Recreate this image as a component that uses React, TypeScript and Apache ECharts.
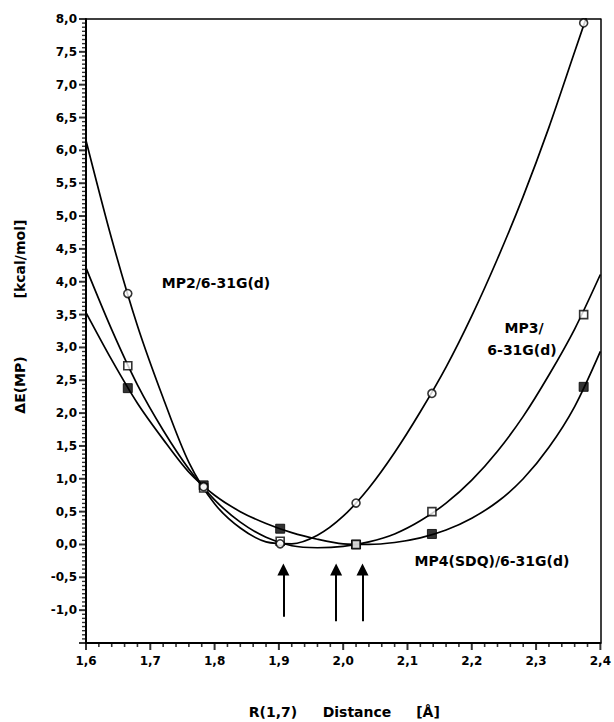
import React, { useEffect, useRef } from 'react';
import * as echarts from 'echarts';

// Fitted curves
const curveX = [1.60, 1.64, 1.68, 1.72, 1.76, 1.80, 1.84, 1.88, 1.92, 1.96, 2.00, 2.04, 2.08, 2.12, 2.16, 2.20, 2.24, 2.28, 2.32, 2.36, 2.40];
const mp2Curve = [6.15, 4.65, 3.33, 2.23, 1.25, 0.62, 0.25, 0.04, 0.01, 0.14, 0.43, 0.86, 1.40, 2.02, 2.70, 3.48, 4.35, 5.30, 6.35, 7.50, 8.65];
const mp3Curve = [4.21, 3.27, 2.43, 1.74, 1.15, 0.68, 0.34, 0.11, -0.02, -0.05, -0.03, 0.04, 0.16, 0.36, 0.63, 0.98, 1.42, 1.95, 2.58, 3.28, 4.11];
const mp4Curve = [3.53, 2.81, 2.15, 1.60, 1.10, 0.75, 0.50, 0.32, 0.18, 0.08, 0.01, 0.00, 0.03, 0.10, 0.22, 0.40, 0.65, 1.00, 1.48, 2.10, 2.94];

// Computed points (markers)
const markX = [1.665, 1.783, 1.902, 2.020, 2.138, 2.374];
const mp2Points = [3.82, 0.88, 0.01, 0.63, 2.30, 7.94];
const mp3Points = [2.72, 0.86, 0.05, 0.00, 0.50, 3.50];
const mp4Points = [2.38, 0.90, 0.24, 0.00, 0.16, 2.40];

// Arrows marking the minima
const arrowX = [1.907, 1.989, 2.030];
const arrowTail = [-1.10, -1.17, -1.17];
const arrowHead = -0.38;

// Axis ranges and tick subdivisions
const xRange = [1.6, 2.4];
const yRange = [-1.5, 8];
const xMinorSteps = 40; // minor tick every 0.02, major every 5th
const yMinorSteps = 152; // minor tick every 0.0625, major every 8th

// Labels
const seriesLabels = ['MP2/6-31G(d)', 'MP3/', '6-31G(d)', 'MP4(SDQ)/6-31G(d)'];
const yTitleParts = ['ΔE(MP)', '[kcal/mol]'];
const xTitleParts = ['R(1,7)', 'Distance', '[Å]'];

const FONT = '"DejaVu Sans", sans-serif';

const pairs = (xs: number[], ys: number[]) => xs.map((x, i) => [x, ys[i]]);
const fmt = (v: number) => v.toFixed(1).replace('.', ',');

const xMajorTicks: number[][] = [];
const xMinorTicks: number[][] = [];
for (let i = 0; i <= xMinorSteps; i++) {
  const v = xRange[0] + ((xRange[1] - xRange[0]) * i) / xMinorSteps;
  (i % 5 === 0 ? xMajorTicks : xMinorTicks).push([v, yRange[0]]);
}
const yMajorTicks: number[][] = [];
const yMinorTicks: number[][] = [];
for (let i = 0; i <= yMinorSteps; i++) {
  const v = yRange[0] + ((yRange[1] - yRange[0]) * i) / yMinorSteps;
  (i % 8 === 0 ? yMajorTicks : yMinorTicks).push([xRange[0], v]);
}

export default function App() {
  const ref = useRef<HTMLDivElement>(null);
  useEffect(() => {
    document.body.style.margin = '0';
    const chart = echarts.init(ref.current!, null, { renderer: 'svg' });
    const lineBase = {
      type: 'line' as const,
      smooth: 0.3,
      showSymbol: false,
      symbol: 'none',
      lineStyle: { color: '#000', width: 1.7 },
      silent: true,
      z: 2,
    };
    const tickSeries = (data: number[][], size: number[], offset: number[]) => ({
      type: 'scatter' as const,
      data,
      symbol: 'rect',
      symbolSize: size,
      symbolOffset: offset,
      itemStyle: { color: '#000' },
      clip: false,
      silent: true,
      z: 6,
    });
    const textStyle = (text: string) => ({
      text,
      fill: '#000',
      font: `bold 14px ${FONT}`,
      align: 'center',
      verticalAlign: 'middle',
    });
    const labelStyle = {
      color: '#000',
      fontFamily: FONT,
      fontWeight: 'bold' as const,
      fontSize: 12,
    };
    const frameAxis = {
      type: 'value' as const,
      axisLine: { show: true, onZero: false, lineStyle: { color: '#000', width: 1.5 } },
      axisTick: { show: false },
      axisLabel: { show: false },
      splitLine: { show: false },
    };
    chart.setOption({
      animation: false,
      grid: { left: 86, right: 12, top: 19, bottom: 79 },
      xAxis: [
        {
          type: 'value',
          min: xRange[0],
          max: xRange[1],
          interval: 0.1,
          axisLine: { show: true, onZero: false, lineStyle: { color: '#000', width: 2 } },
          axisTick: { show: false },
          splitLine: { show: false },
          axisLabel: { ...labelStyle, margin: 12, formatter: (v: number) => fmt(v) },
        },
        { ...frameAxis, position: 'top', min: xRange[0], max: xRange[1] },
      ],
      yAxis: [
        {
          type: 'value',
          min: yRange[0],
          max: yRange[1],
          interval: 0.5,
          axisLine: { show: true, onZero: false, lineStyle: { color: '#000', width: 2 } },
          axisTick: { show: false },
          splitLine: { show: false },
          axisLabel: { ...labelStyle, margin: 9, formatter: (v: number) => (v < -1.25 ? '' : fmt(v)) },
        },
        { ...frameAxis, position: 'right', min: yRange[0], max: yRange[1] },
      ],
      series: [
        {
          ...lineBase,
          name: 'MP2 curve',
          data: pairs(curveX, mp2Curve),
          markLine: {
            silent: true,
            symbol: ['none', 'triangle'],
            symbolSize: 12,
            label: { show: false },
            lineStyle: { color: '#000', width: 2, type: 'solid' },
            itemStyle: { color: '#000' },
            emphasis: { disabled: true },
            data: arrowX.map((x, i) => [
              { coord: [x, arrowTail[i]] },
              { coord: [x, arrowHead] },
            ]),
          },
        },
        { ...lineBase, name: 'MP3 curve', data: pairs(curveX, mp3Curve) },
        { ...lineBase, name: 'MP4 curve', data: pairs(curveX, mp4Curve) },
        {
          type: 'scatter',
          name: 'MP4(SDQ)',
          data: pairs(markX, mp4Points),
          symbol: 'rect',
          symbolSize: 9,
          itemStyle: { color: '#000', borderColor: '#000', borderWidth: 1 },
          z: 3,
          silent: true,
        },
        {
          type: 'scatter',
          name: 'MP3',
          data: pairs(markX, mp3Points),
          symbol: 'rect',
          symbolSize: 8,
          itemStyle: { color: '#fff', borderColor: '#000', borderWidth: 1.6 },
          z: 4,
          silent: true,
        },
        {
          type: 'scatter',
          name: 'MP2',
          data: pairs(markX, mp2Points),
          symbol: 'circle',
          symbolSize: 8,
          itemStyle: { color: '#fff', borderColor: '#000', borderWidth: 1.6 },
          z: 5,
          silent: true,
        },
        tickSeries(xMajorTicks, [2, 7], [0, 3.5]),
        tickSeries(xMinorTicks, [1.6, 4], [0, 2]),
        tickSeries(yMajorTicks, [7, 2], [-3.5, 0]),
        tickSeries(yMinorTicks, [4, 1.4], [-2, 0]),
      ],
      graphic: [
        { type: 'text', x: 216, y: 283, style: textStyle(seriesLabels[0]) },
        { type: 'text', x: 524, y: 328, style: textStyle(seriesLabels[1]) },
        { type: 'text', x: 522, y: 350, style: textStyle(seriesLabels[2]) },
        { type: 'text', x: 492, y: 561, style: textStyle(seriesLabels[3]) },
        { type: 'text', x: 20, y: 385, rotation: Math.PI / 2, style: textStyle(yTitleParts[0]) },
        { type: 'text', x: 20, y: 259, rotation: Math.PI / 2, style: textStyle(yTitleParts[1]) },
        { type: 'text', x: 273, y: 712, style: textStyle(xTitleParts[0]) },
        { type: 'text', x: 357, y: 712, style: textStyle(xTitleParts[1]) },
        { type: 'text', x: 428, y: 712, style: textStyle(xTitleParts[2]) },
      ],
    });
    return () => chart.dispose();
  }, []);
  return <div ref={ref} style={{ width: 614, height: 722, position: 'fixed', left: 0, top: 0, background: '#fff' }} />;
}
